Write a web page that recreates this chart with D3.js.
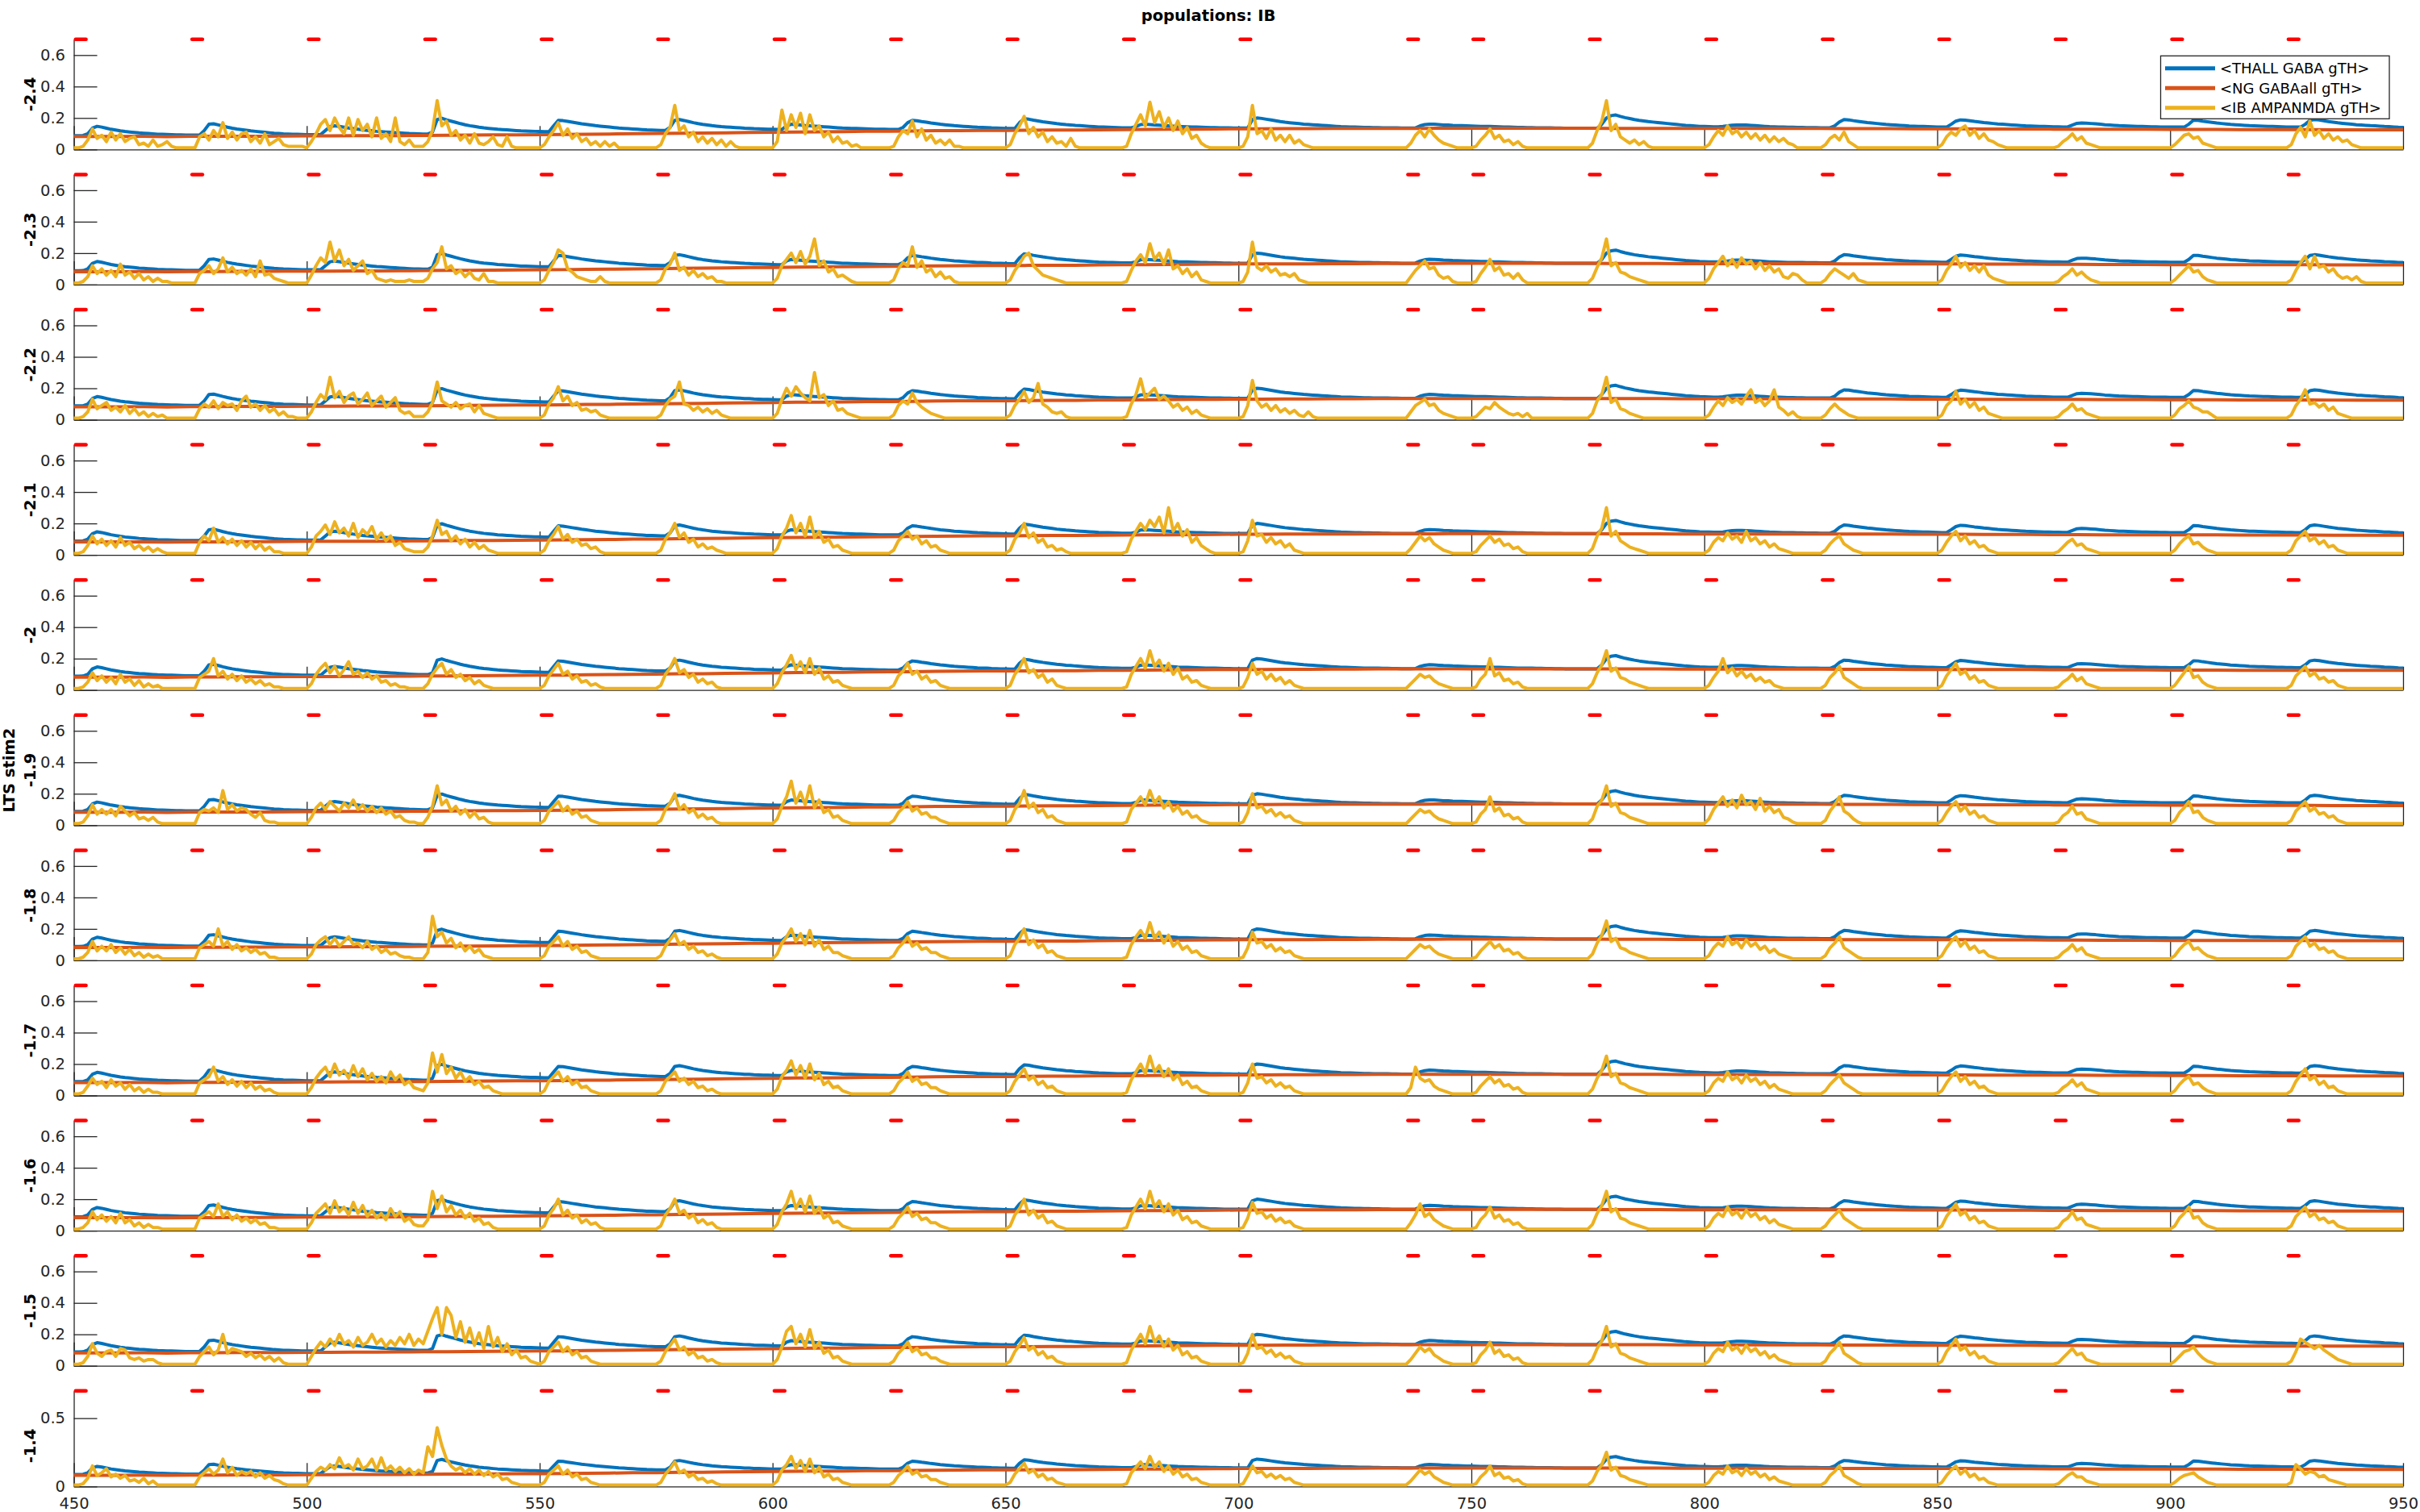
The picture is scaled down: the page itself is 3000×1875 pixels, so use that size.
<!DOCTYPE html>
<html><head><meta charset="utf-8">
<script src="https://cdn.jsdelivr.net/npm/d3@7"></script>
<style>body{margin:0;background:#fff;}svg{display:block;}svg text{font-family:"DejaVu Sans";}</style>
</head><body>
<svg id="chart" width="3000" height="1875"></svg>
<script>
// ---------------- DATA ----------------
const titleText = "populations: IB";
const xTicks = [450,500,550,600,650,700,750,800,850,900,950];
const yTicksStd = [0,0.2,0.4,0.6];
const yTicksLast = [0,0.5];
const panelLabels = ["-2.4","-2.3","-2.2","-2.1","-2","-1.9","-1.8","-1.7","-1.6","-1.5","-1.4"];
const sharedYLabel = "LTS stim2";          // first line of the ylabel of the "-1.9" panel
const legendLabels = ["<THALL GABA gTH>","<NG GABAall gTH>","<IB AMPANMDA gTH>"];
const stimOnsets = [450,475,500,525,550,575,600,625,650,675,700,736,750,775,800,825,850,875,900,925];
const stimDuration = 3;
const timeStart = 450;      // ms
const rowSpan = 25;         // each table row below covers 25 ms sampled every 1 ms
const ngStep = 5;           // NG trace sampled every 5 ms

// <THALL GABA gTH>, in units of 0.001 (rows: 450-474, 475-499, ... 925-950)
const thallGabaMilli = [
[88,88,89,100,135,147,142,135,128,123,118,114,111,108,105,103,101,99,97,96,95,94,93,92,91],
[91,91,92,120,160,163,156,148,141,135,130,126,122,118,115,112,109,106,103,101,99,98,97,96,95],
[94,94,94,95,120,145,150,146,141,136,132,128,124,121,118,115,113,111,109,107,105,103,101,100,99],
[98,98,110,190,198,188,180,172,164,157,151,146,141,137,134,131,128,126,124,122,120,118,117,116,115],
[114,113,113,150,185,183,178,173,168,163,159,155,151,148,145,142,139,136,134,132,130,128,126,124,123],
[122,121,121,140,185,190,184,177,170,164,159,155,151,148,145,143,141,139,137,135,134,132,131,130,129],
[128,127,127,150,160,158,155,152,150,148,146,144,142,140,138,136,135,134,133,132,131,130,129,128,128],
[127,127,127,140,170,185,182,177,173,168,164,160,157,154,151,149,147,145,143,141,140,139,137,136,135],
[134,133,133,170,195,192,186,181,176,172,168,164,161,158,156,153,151,149,147,145,143,142,141,140,139],
[138,138,138,145,158,160,158,156,154,152,150,148,146,145,144,143,142,141,140,139,139,138,137,137,136],
[136,136,136,190,200,197,192,187,182,177,173,170,167,164,161,159,157,155,153,151,149,147,145,144,143],
[142,141,140,140,139,139,138,138,137,137,136,136,136,137,150,158,161,160,158,156,155,153,152,151,150],
[149,148,147,147,146,145,144,143,142,141,140,140,139,139,138,138,137,137,136,136,135,135,135,135,135],
[135,135,135,160,200,215,219,210,202,196,190,185,181,177,174,171,168,165,162,159,156,153,151,149,147],
[146,145,144,144,146,150,154,156,156,155,153,151,149,147,145,144,143,142,141,141,140,140,139,139,139],
[138,138,138,150,175,190,188,183,179,175,171,168,165,162,159,157,155,153,151,149,148,147,146,145,144],
[143,142,142,160,180,188,186,182,178,175,171,168,165,162,160,158,156,154,152,150,149,148,147,146,145],
[144,144,143,143,155,166,168,167,165,163,160,157,155,153,151,150,149,148,147,146,145,144,144,143,143],
[142,142,142,142,160,186,185,180,176,172,168,165,162,159,157,155,153,151,150,149,148,147,146,145,144],
[143,143,142,142,160,185,190,187,182,177,173,169,166,163,160,157,155,153,151,150,148,146,145,143,141,140]
];

// <NG GABAall gTH>, in units of 0.001, every 5 ms from 450 to 950
const ngGabaMilli = [82,82,82,83,81,83,83,84,84,85,86,86,87,87,88,89,90,91,92,93,
94,95,97,98,100,101,103,104,106,108,109,111,112,113,115,116,117,119,120,121,
121,122,123,123,125,126,127,128,129,130,131,131,132,132,133,133,134,134,134,135,
135,135,135,135,135,135,134,134,134,133,133,133,133,133,133,133,132,132,132,131,
131,131,130,130,130,129,129,128,128,128,127,127,127,126,126,126,126,125,125,125,125];

// <IB AMPANMDA gTH>, in units of 0.01, one table per panel (rows: 450-474 ... 925-950)
const ib_m24 = [
[1,1,2,6,13,7,9,5,11,6,10,5,7,8,3,4,2,6,2,3,5,2,1,1,1],
[1,1,8,10,6,12,8,17,7,11,6,10,11,5,8,4,10,3,5,7,3,2,2,2,2],
[1,5,10,16,19,12,20,14,10,20,9,19,12,16,8,20,7,10,5,20,5,3,6,2,2],
[2,5,12,31,15,18,9,12,6,9,4,10,4,3,5,8,3,2,8,2,1,1,1,1,1],
[1,3,8,12,17,9,13,7,10,5,7,3,5,2,5,2,4,1,1,1,1,1,1,1,1],
[1,3,10,14,28,12,15,8,11,5,8,4,7,3,6,2,5,2,1,1,1,1,1,1,1],
[1,5,25,12,22,14,23,10,22,12,15,8,11,5,8,4,5,2,3,1,1,1,1,1,1],
[1,2,8,12,10,18,8,13,6,9,4,6,3,6,2,2,1,1,1,1,1,1,1,1,1],
[1,3,10,15,21,10,14,8,11,5,8,4,5,2,7,2,1,1,1,1,1,1,1,1,1],
[1,2,10,16,22,15,30,17,24,14,20,12,18,10,14,7,9,4,2,1,1,1,1,1,1],
[1,2,8,28,10,12,7,13,6,9,5,9,4,6,3,2,1,1,1,1,1,1,1,1,1],
[1,1,1,1,1,1,1,1,1,1,1,1,4,9,12,8,13,9,6,4,3,2,1,1,1],
[1,2,6,9,13,7,9,5,6,3,5,2,1,1,1,1,1,1,1,1,1,1,1,1,1],
[1,4,12,18,31,12,16,8,6,4,6,3,5,2,1,1,1,1,1,1,1,1,1,1,1],
[1,3,8,12,9,15,10,12,8,11,7,10,6,9,5,8,5,7,4,3,1,1,1,1,1],
[1,3,7,9,6,11,5,3,1,1,1,1,1,1,1,1,1,1,1,1,1,1,1,1,1],
[1,3,8,11,9,13,15,9,12,7,10,6,5,3,2,1,1,1,1,1,1,1,1,1,1],
[1,2,5,7,10,6,8,4,3,2,1,1,1,1,1,1,1,1,1,1,1,1,1,1,1],
[1,3,6,9,10,7,8,4,3,2,1,1,1,1,1,1,1,1,1,1,1,1,1,1,1],
[1,3,10,14,8,18,9,12,7,10,6,8,5,6,3,2,1,1,1,1,1,1,1,1,1,1]
];
const ib_m23 = [
[1,1,2,5,12,7,10,6,9,5,13,6,8,4,7,3,5,2,4,2,2,1,1,1,1],
[1,1,7,9,12,7,10,17,8,11,7,9,6,10,5,15,6,7,4,3,2,1,1,1,1],
[1,6,12,17,14,27,15,22,12,16,9,12,15,7,9,4,3,2,3,2,2,2,3,2,2],
[2,4,10,14,24,10,12,7,9,5,8,4,3,7,2,2,1,1,1,1,1,1,1,1,1],
[1,3,9,14,22,20,10,8,5,4,3,2,2,5,2,1,1,1,1,1,1,1,1,1,1],
[1,3,10,13,20,9,11,6,9,5,7,4,5,2,2,1,1,1,1,1,1,1,1,1,1],
[1,4,12,16,20,14,21,13,18,29,12,15,8,10,5,6,4,2,1,1,1,1,1,1,1],
[1,3,10,14,12,24,11,15,8,10,5,8,4,5,2,1,1,1,1,1,1,1,1,1,1],
[1,3,9,13,18,20,12,9,6,5,4,3,2,1,1,1,1,1,1,1,1,1,1,1,1],
[1,2,9,15,19,14,26,16,20,13,22,10,12,7,10,5,8,3,2,1,1,1,1,1,1],
[1,2,8,27,11,9,12,8,10,6,7,5,7,3,2,1,1,1,1,1,1,1,1,1,1],
[1,1,1,1,1,1,1,1,1,1,1,1,5,9,12,15,10,11,6,4,5,2,1,1,1],
[1,2,7,11,16,9,11,6,7,4,7,3,1,1,1,1,1,1,1,1,1,1,1,1,1],
[1,4,11,17,29,12,14,8,7,5,4,3,2,1,1,1,1,1,1,1,1,1,1,1,1],
[1,4,10,14,18,12,16,11,17,13,15,10,14,9,12,8,10,5,4,7,6,3,1,1,1],
[1,3,7,10,8,6,4,7,3,2,1,1,1,1,1,1,1,1,1,1,1,1,1,1,1],
[1,3,9,13,18,11,14,9,12,8,12,6,4,3,2,1,1,1,1,1,1,1,1,1,1],
[1,2,5,7,10,6,8,5,3,2,1,1,1,1,1,1,1,1,1,1,1,1,1,1,1],
[1,3,6,9,12,8,9,5,3,2,1,1,1,1,1,1,1,1,1,1,1,1,1,1,1],
[1,3,9,14,18,10,18,11,12,8,10,6,4,5,3,5,2,1,1,1,1,1,1,1,1,1]
];
const ib_m22 = [
[1,1,2,5,13,7,9,11,6,8,5,9,4,7,3,5,2,4,2,3,1,1,1,1,1],
[1,1,7,10,8,12,7,11,9,10,6,12,15,8,10,6,9,5,7,3,5,2,2,1,1],
[1,5,11,16,13,27,14,18,11,15,17,10,13,17,9,12,15,8,11,14,6,4,5,2,2],
[2,5,11,24,12,10,8,11,7,9,10,5,9,4,3,2,1,1,1,1,1,1,1,1,1],
[1,3,10,14,21,12,15,9,11,6,7,5,6,3,2,1,1,1,1,1,1,1,1,1,1],
[1,3,9,13,15,24,10,9,6,8,5,7,4,6,3,2,1,1,1,1,1,1,1,1,1],
[1,4,13,20,15,21,17,14,12,30,14,16,9,12,6,7,4,3,2,1,1,1,1,1,1],
[1,3,9,12,10,17,11,8,6,4,3,2,1,1,1,1,1,1,1,1,1,1,1,1,1],
[1,3,9,13,18,11,14,23,10,8,5,4,5,2,1,1,1,1,1,1,1,1,1,1,1],
[1,2,10,16,26,14,17,20,13,15,12,8,10,6,8,4,6,3,2,1,1,1,1,1,1],
[1,2,9,25,12,8,10,6,9,5,7,4,6,3,2,5,2,1,1,1,1,1,1,1,1],
[1,1,1,1,1,1,1,1,1,1,1,1,5,9,11,13,9,10,6,4,3,2,1,1,1],
[1,2,5,8,7,11,8,6,4,3,4,2,4,1,1,1,1,1,1,1,1,1,1,1,1],
[1,4,12,16,27,11,13,7,6,4,3,2,1,1,1,1,1,1,1,1,1,1,1,1,1],
[1,3,8,12,9,14,11,13,10,15,19,11,13,9,12,19,8,6,3,5,2,1,1,1,1],
[1,3,7,10,7,5,3,2,1,1,1,1,1,1,1,1,1,1,1,1,1,1,1,1,1],
[1,3,9,12,18,10,13,8,11,6,8,4,3,2,1,1,1,1,1,1,1,1,1,1,1],
[1,2,5,7,10,6,7,4,3,2,1,1,1,1,1,1,1,1,1,1,1,1,1,1,1],
[1,3,7,9,12,8,7,5,5,3,1,1,1,1,1,1,1,1,1,1,1,1,1,1,1],
[1,3,9,13,19,10,11,8,10,6,8,4,3,2,1,1,1,1,1,1,1,1,1,1,1,1]
];
const ib_m21 = [
[1,1,2,6,12,7,10,6,9,5,11,6,8,4,6,3,5,2,4,2,1,1,1,1,1],
[1,1,8,12,9,17,8,11,7,10,6,9,5,8,4,7,3,5,2,2,1,1,1,1,1],
[1,5,12,15,19,13,21,14,17,12,20,11,16,13,18,10,14,9,12,6,8,4,3,2,2],
[2,5,12,22,13,15,9,12,7,10,5,8,4,6,3,2,1,1,1,1,1,1,1,1,1],
[1,3,9,13,18,10,13,8,10,6,7,4,5,2,1,1,1,1,1,1,1,1,1,1,1],
[1,3,10,14,20,11,14,8,10,5,7,4,5,3,2,1,1,1,1,1,1,1,1,1,1],
[1,4,12,17,25,14,20,12,24,11,15,8,10,5,6,3,2,1,1,1,1,1,1,1,1],
[1,3,9,12,15,10,12,7,9,5,6,3,2,1,1,1,1,1,1,1,1,1,1,1,1],
[1,3,10,14,20,11,14,8,10,5,6,3,4,2,1,1,1,1,1,1,1,1,1,1,1],
[1,2,10,15,20,16,22,18,24,14,30,15,20,12,16,8,11,6,4,2,1,1,1,1,1],
[1,2,9,22,12,13,8,11,7,9,5,7,3,2,1,1,1,1,1,1,1,1,1,1,1],
[1,1,1,1,1,1,1,1,1,1,1,1,4,8,12,9,11,7,5,3,2,1,1,1,1],
[1,2,6,9,12,8,10,6,7,4,5,2,1,1,1,1,1,1,1,1,1,1,1,1,1],
[1,4,12,17,30,12,15,9,7,5,4,3,2,1,1,1,1,1,1,1,1,1,1,1,1],
[1,3,8,11,9,14,10,12,8,15,9,11,7,9,5,7,4,3,2,1,1,1,1,1,1],
[1,3,7,10,12,7,5,3,2,1,1,1,1,1,1,1,1,1,1,1,1,1,1,1,1],
[1,3,8,12,15,9,12,7,9,5,6,3,2,1,1,1,1,1,1,1,1,1,1,1,1],
[1,2,5,8,10,6,7,4,3,2,1,1,1,1,1,1,1,1,1,1,1,1,1,1,1],
[1,3,7,10,12,7,8,5,3,2,1,1,1,1,1,1,1,1,1,1,1,1,1,1,1],
[1,3,9,12,15,9,11,7,9,5,6,3,2,1,1,1,1,1,1,1,1,1,1,1,1,1]
];
const ib_m20 = [
[1,1,2,5,11,6,9,5,8,4,10,5,7,3,6,2,4,2,3,1,1,1,1,1,1],
[1,1,8,10,12,20,9,12,7,10,6,9,5,7,4,6,3,4,2,2,1,1,1,1,1],
[1,4,10,14,17,11,15,9,13,18,10,12,8,11,7,9,5,6,3,4,2,2,1,1,1],
[1,4,10,14,17,10,13,8,10,6,8,4,6,3,2,1,1,1,1,1,1,1,1,1,1],
[1,3,9,13,17,10,12,7,9,5,6,3,4,2,1,1,1,1,1,1,1,1,1,1,1],
[1,3,10,14,20,11,13,8,10,5,7,4,5,2,1,1,1,1,1,1,1,1,1,1,1],
[1,4,11,16,22,13,18,11,20,10,14,7,9,5,6,3,2,1,1,1,1,1,1,1,1],
[1,3,9,12,17,10,12,7,9,5,6,3,2,1,1,1,1,1,1,1,1,1,1,1,1],
[1,3,10,14,20,11,13,8,10,5,7,3,2,1,1,1,1,1,1,1,1,1,1,1,1],
[1,2,10,15,20,14,25,15,19,12,17,10,14,7,9,5,6,3,2,1,1,1,1,1,1],
[1,2,8,17,10,12,7,10,6,8,4,6,3,2,1,1,1,1,1,1,1,1,1,1,1],
[1,1,1,1,1,1,1,1,1,1,1,1,4,7,10,8,9,6,4,3,2,1,1,1,1],
[1,2,7,10,20,9,11,6,7,4,5,2,1,1,1,1,1,1,1,1,1,1,1,1,1],
[1,4,11,16,25,12,14,8,7,5,4,3,2,1,1,1,1,1,1,1,1,1,1,1,1],
[1,3,8,12,20,11,14,9,12,8,10,6,8,5,6,3,2,1,1,1,1,1,1,1,1],
[1,3,8,11,15,8,6,4,2,1,1,1,1,1,1,1,1,1,1,1,1,1,1,1,1],
[1,3,9,13,17,10,12,7,9,5,6,3,2,1,1,1,1,1,1,1,1,1,1,1,1],
[1,2,5,7,10,6,8,4,3,2,1,1,1,1,1,1,1,1,1,1,1,1,1,1,1],
[1,3,7,11,15,8,9,5,3,2,1,1,1,1,1,1,1,1,1,1,1,1,1,1,1],
[1,3,9,12,15,9,11,7,8,5,6,3,2,1,1,1,1,1,1,1,1,1,1,1,1,1]
];
const ib_m19 = [
[1,1,2,6,13,7,10,7,10,6,12,9,6,8,4,5,3,5,2,1,1,1,1,1,1],
[1,1,8,10,9,11,8,22,10,13,9,11,10,7,5,8,3,2,2,1,1,1,1,1,1],
[1,5,11,14,10,15,12,9,14,11,16,10,13,9,12,8,11,7,9,5,6,3,2,2,1],
[1,5,12,25,13,16,9,12,7,10,5,8,4,5,2,1,1,1,1,1,1,1,1,1,1],
[1,3,9,12,15,9,12,7,9,5,6,3,2,1,1,1,1,1,1,1,1,1,1,1,1],
[1,3,10,14,20,10,13,8,10,5,7,4,5,2,1,1,1,1,1,1,1,1,1,1,1],
[1,4,12,18,28,14,21,13,25,11,16,8,10,5,6,3,2,1,1,1,1,1,1,1,1],
[1,3,8,11,15,9,11,7,8,5,5,3,2,1,1,1,1,1,1,1,1,1,1,1,1],
[1,3,10,14,22,11,14,8,10,5,6,3,2,1,1,1,1,1,1,1,1,1,1,1,1],
[1,2,10,14,18,13,22,14,18,11,15,9,12,7,9,5,6,3,2,1,1,1,1,1,1],
[1,2,8,20,11,12,8,10,6,8,5,6,3,2,1,1,1,1,1,1,1,1,1,1,1],
[1,1,1,1,1,1,1,1,1,1,1,1,4,7,10,8,9,6,4,3,2,1,1,1,1],
[1,2,7,10,18,9,11,6,7,4,5,2,1,1,1,1,1,1,1,1,1,1,1,1,1],
[1,4,12,16,25,12,14,8,7,5,4,3,2,1,1,1,1,1,1,1,1,1,1,1,1],
[1,4,10,14,18,12,16,11,19,13,15,10,17,9,12,8,10,5,4,2,1,1,1,1,1],
[1,3,9,13,18,9,7,4,2,1,1,1,1,1,1,1,1,1,1,1,1,1,1,1,1],
[1,3,8,12,15,9,12,7,9,5,6,3,2,1,1,1,1,1,1,1,1,1,1,1,1],
[1,2,6,8,12,7,8,4,3,2,1,1,1,1,1,1,1,1,1,1,1,1,1,1,1],
[1,3,8,11,15,8,9,5,3,2,1,1,1,1,1,1,1,1,1,1,1,1,1,1,1],
[1,3,9,12,15,9,11,7,8,5,6,3,2,1,1,1,1,1,1,1,1,1,1,1,1,1]
];
const ib_m18 = [
[1,1,2,5,12,6,9,6,10,5,8,4,7,3,5,2,4,2,3,1,1,1,1,1,1],
[1,1,8,10,12,9,20,9,12,7,10,6,8,5,7,4,5,2,2,1,1,1,1,1,1],
[1,4,10,13,15,10,14,9,12,15,10,11,8,12,7,9,5,7,4,5,3,2,2,1,1],
[1,5,28,15,18,11,14,8,11,6,9,5,7,3,2,1,1,1,1,1,1,1,1,1,1],
[1,3,9,12,15,9,12,7,9,5,6,3,2,1,1,1,1,1,1,1,1,1,1,1,1],
[1,3,9,13,17,10,12,7,9,5,6,3,4,2,1,1,1,1,1,1,1,1,1,1,1],
[1,4,11,15,20,12,17,10,19,9,13,7,9,5,5,3,2,1,1,1,1,1,1,1,1],
[1,3,8,11,15,9,11,7,8,5,5,3,2,1,1,1,1,1,1,1,1,1,1,1,1],
[1,3,10,14,20,10,13,8,10,5,6,3,2,1,1,1,1,1,1,1,1,1,1,1,1],
[1,2,10,15,19,14,24,14,18,11,16,9,12,7,9,5,6,3,2,1,1,1,1,1,1],
[1,2,8,18,11,12,8,10,6,8,5,6,3,2,1,1,1,1,1,1,1,1,1,1,1],
[1,1,1,1,1,1,1,1,1,1,1,1,4,7,10,8,9,6,4,3,2,1,1,1,1],
[1,2,6,9,12,8,10,6,7,4,5,2,1,1,1,1,1,1,1,1,1,1,1,1,1],
[1,4,11,16,25,12,14,8,7,5,4,3,2,1,1,1,1,1,1,1,1,1,1,1,1],
[1,3,8,11,9,15,10,12,8,13,9,11,7,9,5,7,4,3,2,1,1,1,1,1,1],
[1,3,8,11,15,8,6,4,2,1,1,1,1,1,1,1,1,1,1,1,1,1,1,1,1],
[1,3,8,12,15,9,12,7,9,5,6,3,2,1,1,1,1,1,1,1,1,1,1,1,1],
[1,2,5,7,10,6,8,4,3,2,1,1,1,1,1,1,1,1,1,1,1,1,1,1,1],
[1,3,7,10,12,7,8,5,3,2,1,1,1,1,1,1,1,1,1,1,1,1,1,1,1],
[1,3,9,12,15,9,11,7,8,5,6,3,2,1,1,1,1,1,1,1,1,1,1,1,1,1]
];
const ib_m17 = [
[1,1,2,6,11,7,9,5,10,6,8,4,7,3,5,2,4,2,2,1,1,1,1,1,1],
[1,1,8,10,12,18,9,12,7,10,6,9,5,8,4,6,3,4,2,1,1,1,1,1,1],
[1,5,11,15,18,12,20,13,16,11,19,12,17,10,14,9,12,8,15,10,13,7,9,5,4],
[3,8,27,15,26,14,18,11,15,9,12,7,9,5,6,3,2,1,1,1,1,1,1,1,1],
[1,3,9,12,15,9,12,7,9,5,6,3,2,1,1,1,1,1,1,1,1,1,1,1,1],
[1,3,9,12,15,9,11,7,9,5,6,3,4,2,1,1,1,1,1,1,1,1,1,1,1],
[1,4,12,16,22,13,19,11,20,10,14,7,9,5,6,3,2,1,1,1,1,1,1,1,1],
[1,3,8,11,15,9,11,7,8,5,5,3,2,1,1,1,1,1,1,1,1,1,1,1,1],
[1,3,9,13,17,10,12,7,9,5,6,3,2,1,1,1,1,1,1,1,1,1,1,1,1],
[1,2,10,15,20,14,25,15,19,12,17,10,13,7,9,5,6,3,2,1,1,1,1,1,1],
[1,2,8,20,11,12,8,10,6,8,5,6,3,2,1,1,1,1,1,1,1,1,1,1,1],
[1,1,1,1,1,1,1,1,1,1,1,1,5,18,11,9,10,6,4,3,2,1,1,1,1],
[1,2,6,9,12,8,10,6,7,4,5,2,1,1,1,1,1,1,1,1,1,1,1,1,1],
[1,4,11,16,25,12,14,8,7,5,4,3,2,1,1,1,1,1,1,1,1,1,1,1,1],
[1,3,8,11,9,15,10,12,8,13,9,11,7,9,5,7,4,3,2,1,1,1,1,1,1],
[1,3,7,10,13,8,6,4,2,1,1,1,1,1,1,1,1,1,1,1,1,1,1,1,1],
[1,3,8,12,15,9,12,7,9,5,6,3,2,1,1,1,1,1,1,1,1,1,1,1,1],
[1,2,5,7,10,6,8,4,3,2,1,1,1,1,1,1,1,1,1,1,1,1,1,1,1],
[1,3,7,10,12,7,8,5,3,2,1,1,1,1,1,1,1,1,1,1,1,1,1,1,1],
[1,3,9,13,17,10,12,7,9,5,6,3,2,1,1,1,1,1,1,1,1,1,1,1,1,1]
];
const ib_m16 = [
[1,1,2,5,12,7,10,6,9,5,11,5,7,3,5,2,4,2,2,1,1,1,1,1,1],
[1,1,8,10,12,9,17,9,12,7,10,6,8,5,7,4,5,2,2,1,1,1,1,1,1],
[1,5,11,14,17,11,19,12,15,10,18,11,16,9,13,8,11,7,14,9,12,6,8,4,3],
[3,7,25,14,22,12,16,10,13,8,11,6,8,4,5,2,1,1,1,1,1,1,1,1,1],
[1,3,10,14,20,10,13,8,10,5,7,4,5,2,1,1,1,1,1,1,1,1,1,1,1],
[1,3,10,14,20,11,13,8,10,5,7,4,5,2,1,1,1,1,1,1,1,1,1,1,1],
[1,4,12,17,25,14,20,12,22,11,15,8,10,5,6,3,2,1,1,1,1,1,1,1,1],
[1,3,8,11,15,9,11,7,8,5,5,3,2,1,1,1,1,1,1,1,1,1,1,1,1],
[1,3,10,14,20,10,13,8,10,5,6,3,2,1,1,1,1,1,1,1,1,1,1,1,1],
[1,2,10,15,20,14,25,15,19,12,17,10,13,7,9,5,6,3,2,1,1,1,1,1,1],
[1,2,8,18,11,12,8,10,6,8,5,6,3,2,1,1,1,1,1,1,1,1,1,1,1],
[1,1,1,1,1,1,1,1,1,1,1,1,5,10,17,9,11,7,5,3,2,1,1,1,1],
[1,2,7,10,15,8,10,6,7,4,5,2,1,1,1,1,1,1,1,1,1,1,1,1,1],
[1,4,11,16,25,12,14,8,7,5,4,3,2,1,1,1,1,1,1,1,1,1,1,1,1],
[1,3,8,11,9,15,10,12,8,13,9,11,7,9,5,7,4,3,2,1,1,1,1,1,1],
[1,3,7,10,13,8,6,4,2,1,1,1,1,1,1,1,1,1,1,1,1,1,1,1,1],
[1,3,9,13,17,10,12,7,9,5,6,3,2,1,1,1,1,1,1,1,1,1,1,1,1],
[1,2,6,8,12,7,8,4,3,2,1,1,1,1,1,1,1,1,1,1,1,1,1,1,1],
[1,3,8,11,15,8,9,5,3,2,1,1,1,1,1,1,1,1,1,1,1,1,1,1,1],
[1,3,9,12,15,9,11,7,8,5,6,3,2,1,1,1,1,1,1,1,1,1,1,1,1,1]
];
const ib_m15 = [
[1,1,2,6,14,8,6,9,10,6,11,10,5,4,5,3,4,4,2,1,1,1,1,1,1],
[1,1,6,9,12,7,10,20,8,11,10,9,6,8,5,7,4,6,3,5,2,1,1,1,1],
[1,6,11,15,12,17,13,20,14,16,12,18,13,15,20,14,17,12,16,13,18,14,20,13,17],
[14,22,30,37,20,37,32,18,28,15,24,13,21,11,25,12,18,9,14,7,10,5,6,3,2],
[1,3,9,12,15,9,12,7,9,5,6,3,2,1,1,1,1,1,1,1,1,1,1,1,1],
[1,3,9,13,17,10,12,7,9,5,6,3,4,2,1,1,1,1,1,1,1,1,1,1,1],
[1,4,12,22,25,14,20,12,23,11,15,8,10,5,6,3,2,1,1,1,1,1,1,1,1],
[1,3,8,11,15,9,11,7,8,5,5,3,2,1,1,1,1,1,1,1,1,1,1,1,1],
[1,3,9,13,18,10,12,7,9,5,6,3,2,1,1,1,1,1,1,1,1,1,1,1,1],
[1,2,10,15,20,14,25,15,19,12,17,10,13,7,9,5,6,3,2,1,1,1,1,1,1],
[1,2,8,20,11,12,8,10,6,8,5,6,3,2,1,1,1,1,1,1,1,1,1,1,1],
[1,1,1,1,1,1,1,1,1,1,1,1,4,8,12,9,11,7,5,3,2,1,1,1,1],
[1,2,7,10,15,8,10,6,7,4,5,2,1,1,1,1,1,1,1,1,1,1,1,1,1],
[1,4,11,16,25,12,14,8,7,5,4,3,2,1,1,1,1,1,1,1,1,1,1,1,1],
[1,3,8,11,9,15,10,12,8,13,9,11,7,9,5,7,4,3,2,1,1,1,1,1,1],
[1,3,8,11,15,8,6,4,2,1,1,1,1,1,1,1,1,1,1,1,1,1,1,1,1],
[1,3,9,13,17,10,12,7,9,5,6,3,2,1,1,1,1,1,1,1,1,1,1,1,1],
[1,2,5,8,11,7,8,4,3,2,1,1,1,1,1,1,1,1,1,1,1,1,1,1,1],
[1,3,6,9,10,12,8,5,3,2,1,1,1,1,1,1,1,1,1,1,1,1,1,1,1],
[1,3,9,17,15,13,11,13,10,8,6,4,3,2,1,1,1,1,1,1,1,1,1,1,1,1]
];
const ib_m14 = [
[1,1,2,6,15,8,10,13,7,9,6,8,4,5,3,6,2,4,1,1,1,1,1,1,1],
[1,1,7,10,13,9,12,20,10,14,8,11,9,11,7,10,6,8,5,4,2,1,1,1,1],
[1,6,11,14,12,16,13,21,14,16,12,20,13,15,20,12,21,12,15,11,14,10,13,9,12],
[10,29,22,43,30,20,15,12,14,10,13,9,12,8,11,7,9,5,6,3,2,1,1,1,1],
[1,3,9,12,15,9,12,7,9,5,6,3,2,1,1,1,1,1,1,1,1,1,1,1,1],
[1,3,9,13,18,10,12,7,9,5,6,3,4,2,1,1,1,1,1,1,1,1,1,1,1],
[1,4,12,16,22,13,19,11,20,10,14,7,9,5,6,3,2,1,1,1,1,1,1,1,1],
[1,3,8,11,15,9,11,7,8,5,5,3,2,1,1,1,1,1,1,1,1,1,1,1,1],
[1,3,9,13,17,10,12,7,9,5,6,3,2,1,1,1,1,1,1,1,1,1,1,1,1],
[1,2,10,14,18,13,22,14,18,11,15,9,12,7,9,5,6,3,2,1,1,1,1,1,1],
[1,2,8,15,10,11,7,9,6,8,5,6,3,2,1,1,1,1,1,1,1,1,1,1,1],
[1,1,1,1,1,1,1,1,1,1,1,1,4,8,12,9,11,7,5,3,2,1,1,1,1],
[1,2,7,10,15,8,10,6,7,4,5,2,1,1,1,1,1,1,1,1,1,1,1,1,1],
[1,4,11,16,25,12,14,8,7,5,4,3,2,1,1,1,1,1,1,1,1,1,1,1,1],
[1,3,8,11,9,15,10,12,8,13,9,11,7,9,5,7,4,3,2,1,1,1,1,1,1],
[1,3,8,11,15,8,6,4,2,1,1,1,1,1,1,1,1,1,1,1,1,1,1,1,1],
[1,3,8,12,15,9,12,7,9,5,6,3,2,1,1,1,1,1,1,1,1,1,1,1,1],
[1,2,5,8,10,7,7,4,3,2,1,1,1,1,1,1,1,1,1,1,1,1,1,1,1],
[1,3,6,8,9,10,7,5,3,2,1,1,1,1,1,1,1,1,1,1,1,1,1,1,1],
[1,3,16,13,9,11,10,7,8,5,4,3,2,1,1,1,1,1,1,1,1,1,1,1,1,1]
];
const ibByPanel = [ib_m24, ib_m23, ib_m22, ib_m21, ib_m20, ib_m19, ib_m18, ib_m17, ib_m16, ib_m15, ib_m14];

// ---------------- DRAWING ----------------
const FONT = "DejaVu Sans";
const AXIS_COLOR = "#262626";
const COLORS = ["#0072BD", "#D95319", "#EDB120"];
const STIM_COLOR = "#FF0000";
const AX_LEFT = 91.5, AX_RIGHT = 2979;
const PANEL_TOP0 = 48.8, PANEL_PITCH = 167.6, PANEL_H = 136.5, LAST_PANEL_H = 118.5;
const TICK_LEN = 29, LINE_W = 4;

function rowsToSeries(rows, scale) {
  const out = [];
  rows.forEach((row, k) => row.forEach((v, j) => out.push([timeStart + k * rowSpan + j, v * scale])));
  return out;
}
const thallSeries = rowsToSeries(thallGabaMilli, 0.001);
const ngSeries = ngGabaMilli.map((v, i) => [timeStart + i * ngStep, v * 0.001]);

const svg = d3.select("#chart");
svg.append("rect").attr("width", 3000).attr("height", 1875).attr("fill", "#fff");
const x = d3.scaleLinear().domain([450, 950]).range([AX_LEFT, AX_RIGHT]);
const nP = panelLabels.length;

function styleText(sel, size, bold) {
  sel.style("font-family", FONT).style("font-size", size + "px");
  if (bold) sel.style("font-weight", "bold");
  return sel;
}

panelLabels.forEach((lab, i) => {
  const last = i === nP - 1;
  const top = PANEL_TOP0 + i * PANEL_PITCH;
  const h = last ? LAST_PANEL_H : PANEL_H;
  const y = d3.scaleLinear().domain([0, 0.7]).range([top + h, top]);
  const g = svg.append("g").attr("class", "panel");

  // y axis
  const ya = d3.axisLeft(y).tickValues(last ? yTicksLast : yTicksStd)
    .tickSizeInner(-TICK_LEN).tickSizeOuter(0).tickPadding(10.5).tickFormat(d3.format("~g"));
  const gy = g.append("g").attr("transform", `translate(${AX_LEFT},0)`).call(ya);
  // x axis
  const xa = d3.axisBottom(x).tickValues(xTicks).tickSizeInner(-TICK_LEN).tickSizeOuter(0)
    .tickPadding(13.5).tickFormat(d3.format("d"));
  const gx = g.append("g").attr("transform", `translate(0,${top + h})`).call(xa);
  if (!last) gx.selectAll(".tick text").remove();
  [gy, gx].forEach(ax => {
    ax.attr("font-family", null).attr("font-size", null);
    ax.select(".domain").attr("stroke", AXIS_COLOR).attr("stroke-width", 1.3);
    ax.selectAll(".tick line").attr("stroke", AXIS_COLOR).attr("stroke-width", 1.3);
    styleText(ax.selectAll(".tick text").attr("fill", AXIS_COLOR), 19.5, false);
  });

  // traces
  const line = d3.line().x(d => x(d[0])).y(d => y(d[1]));
  const ibSeries = rowsToSeries(ibByPanel[i], 0.01);
  [thallSeries, ngSeries, ibSeries].forEach((s, k) => {
    g.append("path").datum(s).attr("d", line).attr("fill", "none")
      .attr("stroke", COLORS[k]).attr("stroke-width", LINE_W)
      .attr("stroke-linejoin", "round").attr("stroke-linecap", "butt");
  });

  // stimulus markers at the top of the panel
  const cap = 2.25;
  g.selectAll("line.stim").data(stimOnsets).join("line").attr("class", "stim")
    .attr("x1", t => x(t) + cap).attr("x2", t => x(t + stimDuration) - cap)
    .attr("y1", y(0.7)).attr("y2", y(0.7))
    .attr("stroke", STIM_COLOR).attr("stroke-width", 4.5).attr("stroke-linecap", "round");

  // y labels
  const midY = top + h / 2 + (last ? 9 : 0);
  styleText(g.append("text").attr("transform", `translate(44,${midY}) rotate(-90)`)
    .attr("text-anchor", "middle").attr("fill", "#000").text(lab), 19.5, true);
  if (lab === "-1.9") {
    styleText(g.append("text").attr("transform", `translate(18,${midY}) rotate(-90)`)
      .attr("text-anchor", "middle").attr("fill", "#000").text(sharedYLabel), 19.5, true);
  }
});

// title
styleText(svg.append("text").attr("x", 1498).attr("y", 26).attr("text-anchor", "middle")
  .attr("fill", "#000").text(titleText), 19.5, true);

// legend
const lg = svg.append("g").attr("class", "legend");
lg.append("rect").attr("x", 2678.5).attr("y", 69.3).attr("width", 283.5).attr("height", 78)
  .attr("fill", "#fff").attr("stroke", AXIS_COLOR).attr("stroke-width", 1.3);
legendLabels.forEach((t, k) => {
  const yy = 84.8 + k * 24.5;
  lg.append("line").attr("x1", 2684).attr("x2", 2746).attr("y1", yy).attr("y2", yy)
    .attr("stroke", COLORS[k]).attr("stroke-width", 5);
  styleText(lg.append("text").attr("x", 2752).attr("y", yy).attr("dy", "0.36em")
    .attr("fill", "#000").text(t), 18, false);
});
</script>
</body></html>
